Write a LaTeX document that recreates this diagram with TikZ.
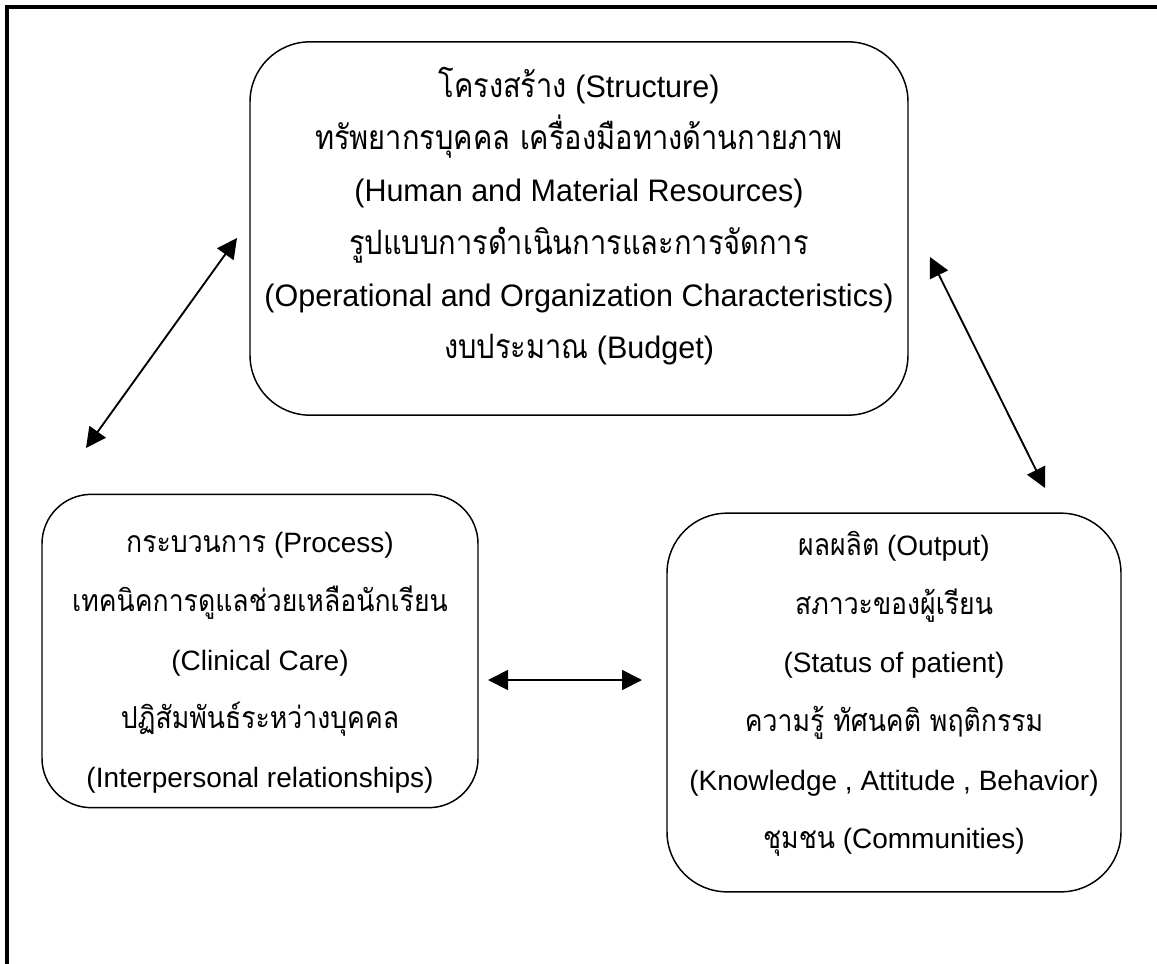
\documentclass[tikz,border=0pt]{standalone}
\usepackage{fontspec}
\setmainfont{Liberation Sans}
\newfontfamily\thaifont[Script=Thai,Scale=1.08,FakeStretch=0.88]{Loma}
\newcommand\thx[1]{{\thaifont #1}}
\newcommand\tightfont[2]{\fontsize{#1}{#2}\selectfont\lineskiplimit=-50pt\relax}
\usetikzlibrary{arrows.meta}
\tikzset{
  frame/.style={line width=2.8pt},
  boxshape/.style={draw, line width=1.1pt, rectangle},
  boxtext/.style={align=center, inner sep=0pt},
  link/.style={line width=1.4pt, {Triangle[length=15pt,width=15pt]}-{Triangle[length=15pt,width=15pt]}}
}
\begin{document}
\begin{tikzpicture}[x=0.75pt,y=-0.75pt]
\useasboundingbox (0,0) rectangle (1157,964);
% outer frame (top and left only)
\draw[frame] (7,964) -- (7,7) -- (1157,7);
% boxes
\node[boxshape, rounded corners=45pt, minimum width=493.5pt, minimum height=280pt] (topbox) at (579,228.5) {};
\node[boxshape, rounded corners=37pt, minimum width=327pt, minimum height=235pt] (leftbox) at (260,651) {};
\node[boxshape, rounded corners=45pt, minimum width=340.5pt, minimum height=284pt] (rightbox) at (894,702.5) {};
% texts
\node[boxtext, font={\tightfont{22}{37}}, xscale=1.04, yscale=1.06, transform shape] (toptext) at (579,216) {%
\thx{โครงสร้าง} (Structure)\\
\thx{ทรัพยากรบุคคล เครื่องมือทางด้านกายภาพ}\\
(Human and Material Resources)\\
\thx{รูปแบบการดำเนินการและการจัดการ}\\
(Operational and Organization Characteristics)\\
\thx{งบประมาณ} (Budget)};
\node[boxtext, font={\tightfont{21}{44}}] (lefttext) at (260,663) {%
\thx{กระบวนการ} (Process)\\
\thx{เทคนิคการดูแลช่วยเหลือนักเรียน}\\
(Clinical Care)\\
\thx{ปฏิสัมพันธ์ระหว่างบุคคล}\\
(Interpersonal relationships)};
\node[boxtext, font={\tightfont{21}{44}}] (righttext) at (894,694) {%
\thx{ผลผลิต} (Output)\\
\thx{สภาวะของผู้เรียน}\\
(Status of patient)\\
\thx{ความรู้ ทัศนคติ พฤติกรรม}\\
(Knowledge , Attitude , Behavior)\\
\thx{ชุมชน} (Communities)};
% arrow end points
\coordinate (a1s) at (86,448);
\coordinate (a1e) at (237,238);
\coordinate (a2s) at (930,257);
\coordinate (a2e) at (1045,488);
\coordinate (a3s) at (488,680);
\coordinate (a3e) at (642,680);
\draw[link] (a1s) -- (a1e);
\draw[link] (a2s) -- (a2e);
\draw[link] (a3s) -- (a3e);
\end{tikzpicture}
\end{document}
